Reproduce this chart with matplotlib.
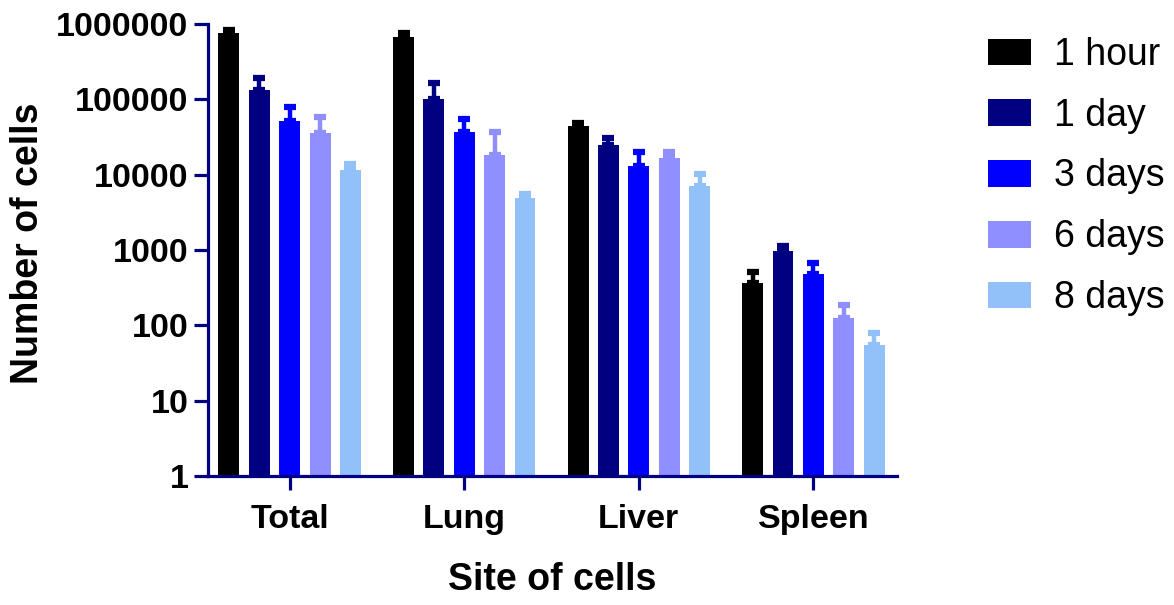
import matplotlib
matplotlib.use("Agg")
import matplotlib.pyplot as plt
import numpy as np
from matplotlib.patches import Patch

plt.rcParams['font.family'] = ['Liberation Sans', 'DejaVu Sans']

sites = ["Total", "Lung", "Liver", "Spleen"]
timepoints = ["1 hour", "1 day", "3 days", "6 days", "8 days"]
colors = ["#000000", "#000080", "#0000FF", "#8F8FFF", "#92C0F8"]

# mean number of cells per site (rows: timepoint, cols: site)
means_1h = [752000, 665000, 44200, 360]
means_1d = [133000, 100000, 24700, 975]
means_3d = [52000, 36500, 13000, 474]
means_6d = [35300, 18000, 16400, 124]
means_8d = [11700, 4840, 7060, 55]

# upper error (SD) added on top of each mean
err_1h = [80000, 87000, 3800, 154]
err_1d = [57000, 63000, 5600, 152]
err_3d = [26000, 18200, 7100, 190]
err_6d = [22700, 18500, 3700, 60]
err_8d = [2100, 680, 3040, 24]

means = [means_1h, means_1d, means_3d, means_6d, means_8d]
errs = [err_1h, err_1d, err_3d, err_6d, err_8d]

W, H, DPI = 1174, 605, 100
fig = plt.figure(figsize=(W / DPI, H / DPI), dpi=DPI)
ax = fig.add_axes([208 / W, 1 - 476 / H, (897 - 208) / W, (476 - 24) / H])

axis_color = "#000080"
x = np.arange(len(sites))
pitch = 0.174
width = 0.12
for i, (m, e, c) in enumerate(zip(means, errs, colors)):
    pos = x + (i - 2) * pitch
    ax.bar(pos, np.array(m) - 1, bottom=1, width=width, color=c,
           edgecolor="none", zorder=2)
    ax.errorbar(pos, m, yerr=[np.zeros(len(m)), e], fmt="none",
                ecolor=c, elinewidth=3.2, capsize=4.5, capthick=4.5,
                zorder=3)

ax.set_yscale("log")
ax.set_ylim(1, 1e6)
ax.set_xlim(-0.468, 3.479)
ax.set_yticks([1, 10, 100, 1000, 10000, 100000, 1000000])
ax.set_yticklabels(["1", "10", "100", "1000", "10000", "100000", "1000000"])
ax.minorticks_off()
ax.set_xticks(x)
ax.set_xticklabels(sites)

for side in ["top", "right"]:
    ax.spines[side].set_visible(False)
for side in ["left", "bottom"]:
    ax.spines[side].set_color(axis_color)
    ax.spines[side].set_linewidth(2.3)

ax.tick_params(axis="both", colors=axis_color, length=10, width=2.3,
               labelcolor="black", labelsize=24.5)
ax.tick_params(axis="x", pad=10)
ax.tick_params(axis="y", pad=4)
for lab in ax.get_xticklabels() + ax.get_yticklabels():
    lab.set_fontweight("bold")

ax.set_ylabel("Number of cells", fontsize=27, fontweight="bold", va="center")
ax.yaxis.set_label_coords(-0.261, 0.5155)
ax.set_xlabel("Site of cells", fontsize=27, fontweight="bold", va="center")
ax.xaxis.set_label_coords(0.5, (476 - 580) / 452)

handles = [Patch(facecolor=c, edgecolor="none") for c in colors]
fig.legend(handles, timepoints, loc="upper left",
           bbox_to_anchor=(973 / W, 1 - 22 / H), frameon=False,
           fontsize=27, handlelength=1.15, handleheight=0.72,
           handletextpad=0.61, labelspacing=0.66, borderaxespad=0)

fig.savefig("out.png", dpi=DPI)
